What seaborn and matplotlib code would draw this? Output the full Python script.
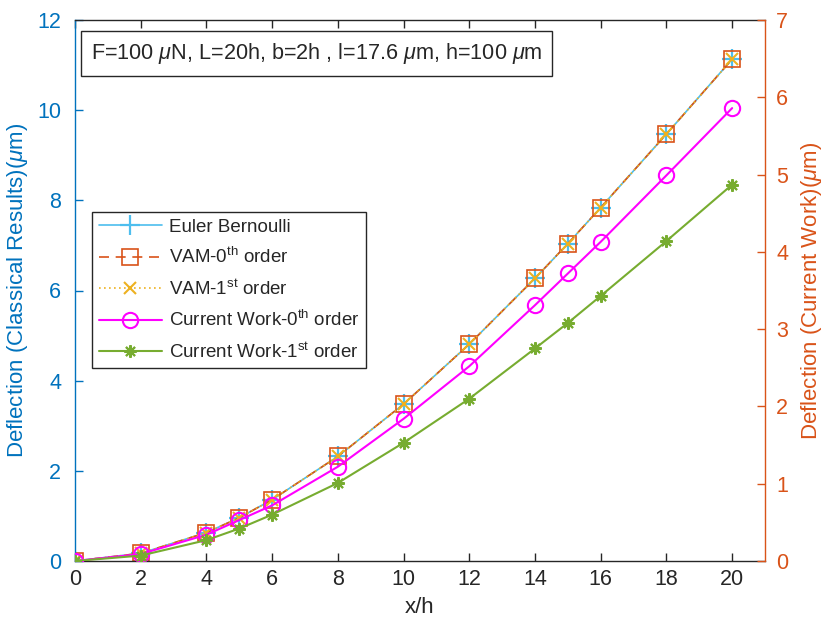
import numpy as np
import pandas as pd
import matplotlib
matplotlib.use("Agg")
import matplotlib.pyplot as plt
import seaborn as sns

# Normalised position along the beam
x_h = [0, 2, 4, 5, 6, 8, 10, 12, 14, 15, 16, 18, 20]

# Classical results (left axis, um)
euler_bernoulli = [0, 0.17, 0.63, 0.96, 1.36, 2.32, 3.48, 4.81, 6.27, 7.04, 7.84, 9.47, 11.13]
vam_0th = [0, 0.17, 0.63, 0.96, 1.36, 2.32, 3.48, 4.81, 6.27, 7.04, 7.84, 9.47, 11.13]
vam_1st = [0, 0.17, 0.63, 0.96, 1.36, 2.32, 3.48, 4.81, 6.27, 7.04, 7.84, 9.47, 11.13]

# Current work (right axis, um)
current_0th = [0, 0.09, 0.34, 0.53, 0.72, 1.22, 1.84, 2.52, 3.31, 3.72, 4.13, 4.99, 5.86]
current_1st = [0, 0.07, 0.27, 0.42, 0.60, 1.01, 1.53, 2.10, 2.75, 3.08, 3.43, 4.14, 4.87]

x_ticks = [0, 2, 4, 6, 8, 10, 12, 14, 16, 18, 20]
left_ticks = [0, 2, 4, 6, 8, 10, 12]
right_ticks = [0, 1, 2, 3, 4, 5, 6, 7]

BLUE = "#0072BD"
ORANGE = "#D95319"
DARK = "#262626"

sns.set_style("white")
plt.rcParams["font.family"] = ["Liberation Sans", "DejaVu Sans"]
plt.rcParams["mathtext.fontset"] = "custom"
plt.rcParams["mathtext.rm"] = "Liberation Sans"
plt.rcParams["mathtext.it"] = "Liberation Sans:italic"
plt.rcParams["mathtext.bf"] = "Liberation Sans:bold"

df = pd.DataFrame({
    "x": x_h,
    "eb": euler_bernoulli,
    "v0": vam_0th,
    "v1": vam_1st,
    "c0": current_0th,
    "c1": current_1st,
})

fig = plt.figure(figsize=(8.25, 6.28), dpi=100)
ax = fig.add_axes([75 / 825, 1 - 561 / 628, 690 / 825, 541 / 628])
ax2 = ax.twinx()

lw = 1.2
EB_C = "#4DBEEE"
V1_C = "#EDB120"
C0_C = "#FF00FF"
C1_C = "#77AC30"
sns.lineplot(data=df, x="x", y="eb", ax=ax, color=EB_C, marker="+",
             markersize=14, markeredgewidth=1.6, markeredgecolor=EB_C,
             linewidth=lw, label="Euler Bernoulli")
sns.lineplot(data=df, x="x", y="v0", ax=ax, color=ORANGE, marker="s",
             markersize=11, markerfacecolor="none", markeredgecolor=ORANGE,
             markeredgewidth=1.2, linewidth=lw, dashes=(6, 4),
             label="VAM-0$^{\\mathrm{th}}$ order")
sns.lineplot(data=df, x="x", y="v1", ax=ax, color=V1_C, marker="x",
             markersize=9, markeredgewidth=1.5, markeredgecolor=V1_C,
             linewidth=lw, dashes=(1, 2),
             label="VAM-1$^{\\mathrm{st}}$ order")
sns.lineplot(data=df, x="x", y="c0", ax=ax2, color=C0_C, marker="o",
             markersize=11, markerfacecolor="none", markeredgecolor=C0_C,
             markeredgewidth=1.5, linewidth=1.5,
             label="Current Work-0$^{\\mathrm{th}}$ order")
sns.lineplot(data=df, x="x", y="c1", ax=ax2, color=C1_C, marker=(8, 2, 0),
             markersize=9, markeredgewidth=1.5, markeredgecolor=C1_C,
             linewidth=1.5, label="Current Work-1$^{\\mathrm{st}}$ order")

ax.set_xlim(0, 21)
ax.set_ylim(0, 12)
ax2.set_ylim(0, 7)
ax.set_xticks(x_ticks)
ax.set_yticks(left_ticks)
ax2.set_yticks(right_ticks)

tfs = 15.5
lfs = 16
ax.set_xlabel("x/h", fontsize=lfs, color=DARK, labelpad=5)
ax.set_ylabel("Deflection (Classical Results)($\\mu$m)", fontsize=lfs, color=BLUE, labelpad=5)
ax2.set_ylabel("Deflection (Current Work)($\\mu$m)", fontsize=lfs, color=ORANGE, labelpad=8)

ax.tick_params(axis="x", direction="in", length=6, width=1, colors=DARK,
               labelsize=tfs, pad=6, top=True, bottom=True)
ax.tick_params(axis="y", direction="in", length=6, width=1, colors=BLUE,
               labelsize=tfs, pad=10, left=True, right=False)
ax2.tick_params(axis="y", direction="in", length=6, width=1, colors=ORANGE,
                labelsize=tfs, pad=8, right=True, left=False)

for s in ["top", "bottom"]:
    ax.spines[s].set_color(DARK)
    ax.spines[s].set_linewidth(1)
ax.spines["left"].set_color(BLUE)
ax.spines["right"].set_visible(False)
for s in ["left", "top", "bottom"]:
    ax2.spines[s].set_visible(False)
ax2.spines["right"].set_color(ORANGE)
ax2.spines["right"].set_linewidth(1)
ax.spines["left"].set_linewidth(1)

# Combined legend for both axes
h1, l1 = ax.get_legend_handles_labels()
h2, l2 = ax2.get_legend_handles_labels()
if ax.get_legend() is not None:
    ax.get_legend().remove()
if ax2.get_legend() is not None:
    ax2.get_legend().remove()
leg = ax2.legend(h1 + h2, l1 + l2, loc="upper left",
                 bbox_to_anchor=((92 - 75) / 690, (561 - 212) / 541),
                 borderaxespad=0, fontsize=13.5, frameon=True, fancybox=False,
                 framealpha=1, edgecolor=DARK, handlelength=3.4,
                 handletextpad=0.35, labelspacing=0.62, borderpad=0.35)
leg.get_frame().set_linewidth(1)

ax2.text((91 - 75) / 690, (561 - 53.5) / 541,
         "F=100 $\\mu$N, L=20h, b=2h , l=17.6 $\\mu$m, h=100 $\\mu$m",
         transform=ax2.transAxes, fontsize=15.6, va="center", ha="left",
         color=DARK,
         bbox=dict(boxstyle="square,pad=0.45", facecolor="white",
                   edgecolor=DARK, linewidth=1))

fig.savefig("out.png", dpi=100)
